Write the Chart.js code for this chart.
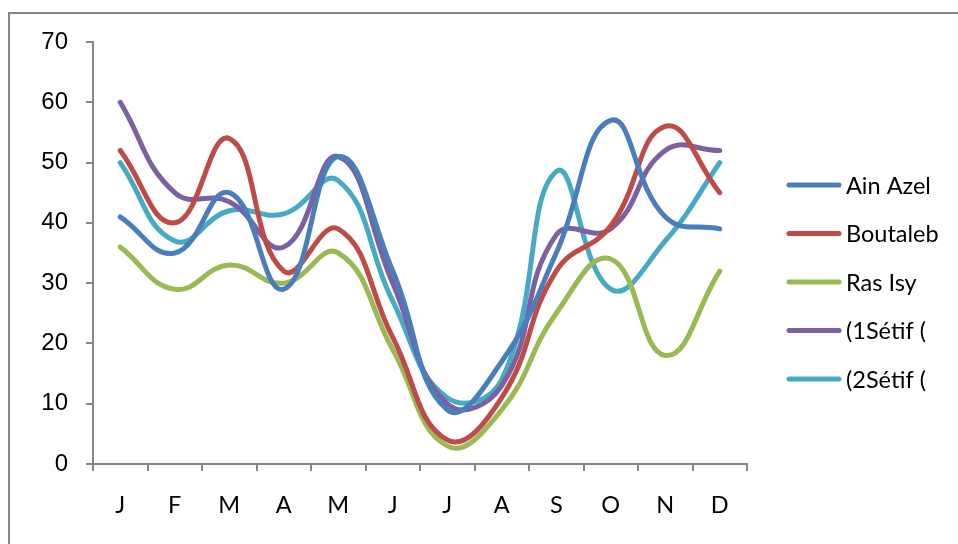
<!DOCTYPE html>
<html>
<head>
<meta charset="utf-8">
<script src="https://cdn.jsdelivr.net/npm/chart.js@4/dist/chart.umd.min.js"></script>
<style>
  html, body { margin: 0; padding: 0; background: #fff; }
  #wrap { width: 958px; height: 544px; position: relative; }
</style>
</head>
<body>
<div id="wrap"><canvas id="chart" width="958" height="544"></canvas></div>
<script>
const months = ['J', 'F', 'M', 'A', 'M', 'J', 'J', 'A', 'S', 'O', 'N', 'D'];
const ainAzel = [41, 35, 45, 29, 51, 32, 9, 17, 35, 57, 41, 39];
const boutaleb = [52, 40, 54, 32, 39, 21, 4, 11, 32, 39.5, 56, 45];
const rasIsy = [36, 29, 33, 30, 35, 19, 3, 9, 25, 34, 18, 32];
const setif1 = [60, 45, 43.5, 36, 51, 30, 10, 13, 38, 39, 52, 52];
const setif2 = [50, 37, 42, 41.5, 47, 27, 11, 14, 48.5, 29, 37, 50];
const seriesNames = ['Ain Azel', 'Boutaleb', 'Ras Isy', '(1Sétif (', '(2Sétif ('];
const seriesColors = ['#4a7ebb', '#be4b48', '#98b954', '#7d60a0', '#46aac5'];
const yTicks = [0, 10, 20, 30, 40, 50, 60, 70];

const axisGrey = '#868686';

// frame around the chart (only top and left edges are visible)
const framePlugin = {
  id: 'frame',
  beforeDraw(chart) {
    const ctx = chart.ctx;
    ctx.save();
    ctx.strokeStyle = axisGrey;
    ctx.lineWidth = 2;
    ctx.beginPath();
    ctx.moveTo(9, 600);
    ctx.lineTo(9, 13);
    ctx.lineTo(960, 13);
    ctx.stroke();
    ctx.restore();
  }
};

// legend on the right, Excel style
const legendPlugin = {
  id: 'sideLegend',
  afterDraw(chart) {
    const ctx = chart.ctx;
    ctx.save();
    ctx.font = '23.5px Lato';
    ctx.textBaseline = 'middle';
    ctx.lineCap = 'round';
    chart.data.datasets.forEach((ds, i) => {
      const y = 185 + i * 48.5;
      ctx.strokeStyle = ds.borderColor;
      ctx.lineWidth = 5;
      ctx.beginPath();
      ctx.moveTo(789, y);
      ctx.lineTo(839, y);
      ctx.stroke();
      ctx.fillStyle = '#000';
      ctx.fillText(ds.label, 846, y + 1);
    });
    ctx.restore();
  }
};

const allSeries = [ainAzel, boutaleb, rasIsy, setif1, setif2];

new Chart(document.getElementById('chart'), {
  type: 'line',
  data: {
    labels: months,
    datasets: allSeries.map((vals, i) => ({
      label: seriesNames[i],
      data: vals,
      borderColor: seriesColors[i],
      backgroundColor: seriesColors[i],
      borderWidth: 5,
      pointRadius: 0,
      tension: 0.45,
      borderCapStyle: 'round',
      borderJoinStyle: 'round',
      fill: false
    }))
  },
  options: {
    responsive: false,
    animation: false,
    layout: { padding: { left: 0, top: 42, right: 211, bottom: 0 } },
    plugins: {
      legend: { display: false },
      tooltip: { enabled: false }
    },
    scales: {
      x: {
        offset: true,
        grid: {
          display: true,
          offset: true,
          drawOnChartArea: false,
          drawTicks: true,
          tickLength: 7,
          color: axisGrey,
          lineWidth: 2
        },
        border: { color: axisGrey, width: 2 },
        ticks: {
          color: '#000',
          font: { family: 'Lato', size: 23.5 },
          padding: 20,
          maxRotation: 0,
          autoSkip: false
        },
        afterFit(scale) { scale.height = 80; }
      },
      y: {
        min: 0,
        max: 70,
        afterBuildTicks(scale) { scale.ticks = yTicks.map(v => ({ value: v })); },
        grid: {
          drawOnChartArea: false,
          drawTicks: true,
          tickLength: 7,
          color: axisGrey,
          lineWidth: 2
        },
        border: { color: axisGrey, width: 2 },
        ticks: {
          color: '#000',
          font: { family: 'Liberation Sans', size: 24 },
          padding: 18
        },
        afterFit(scale) { scale.width = 93; }
      }
    }
  },
  plugins: [framePlugin, legendPlugin]
});
</script>
</body>
</html>
